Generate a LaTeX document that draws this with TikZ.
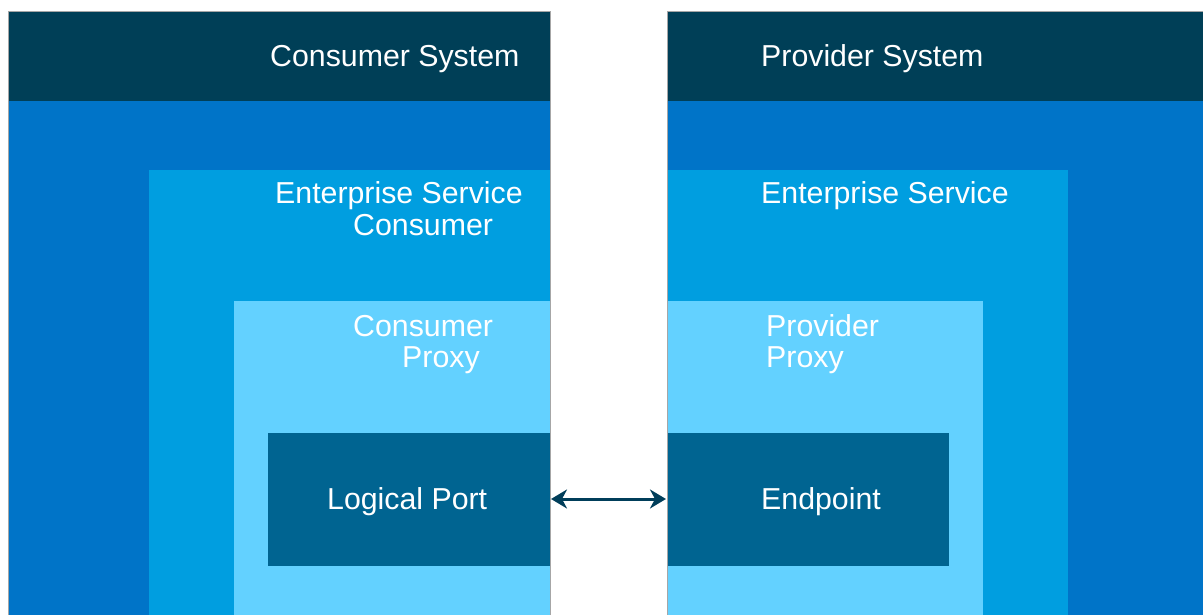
\documentclass[tikz,border=0pt]{standalone}
\usepackage{fontspec}
\setmainfont{Liberation Sans}
\usetikzlibrary{arrows.meta}
\definecolor{hdr}{RGB}{0,63,87}
\definecolor{sysblue}{RGB}{0,116,200}
\definecolor{esblue}{RGB}{0,158,224}
\definecolor{proxyblue}{RGB}{99,209,255}
\definecolor{portblue}{RGB}{0,100,145}
\definecolor{arrowc}{RGB}{0,62,90}
\tikzset{
  box/.style={inner sep=0pt, outer sep=0pt, draw=none},
  lbl/.style={text=white, font=\fontsize{30.3}{31}\selectfont, inner sep=0pt, anchor=base west},
}
\begin{document}
\begin{tikzpicture}[x=1pt,y=-1pt]
\useasboundingbox (0,0) rectangle (1203,615);
\fill[white] (0,0) rectangle (1203,615);
% left system
\fill[sysblue] (8,11) rectangle (550,615);
\fill[hdr] (8,11) rectangle (550,101);
\fill[esblue] (149,170) rectangle (550,615);
\fill[proxyblue] (234,301) rectangle (550,615);
\fill[portblue] (268,433) rectangle (550,566);
\draw[gray!70, line width=0.8pt] (8,615) -- (8,11) -- (550,11) -- (550,615);
% right system
\fill[sysblue] (667,11) rectangle (1203,615);
\fill[hdr] (667,11) rectangle (1203,101);
\fill[esblue] (667,170) rectangle (1068,615);
\fill[proxyblue] (667,301) rectangle (983,615);
\fill[portblue] (667,433) rectangle (949,566);
\draw[gray!70, line width=0.8pt] (667,615) -- (667,11) -- (1203,11);
% anchor coordinates for connector
\coordinate (portL) at (551,499);
\coordinate (portR) at (666,499);
% labels
\node[lbl] (t1) at (270,67) {Consumer System};
\node[lbl] (t2) at (761,67) {Provider System};
\node[lbl] (t3) at (275,204) {Enterprise Service};
\node[lbl] (t4) at (353,236) {Consumer};
\node[lbl] (t5) at (761,204) {Enterprise Service};
\node[lbl] (t6) at (353,336) {Consumer};
\node[lbl] (t7) at (402,367) {Proxy};
\node[lbl] (t8) at (766,336) {Provider};
\node[lbl] (t9) at (766,367) {Proxy};
\node[lbl] (t10) at (327,509) {Logical Port};
\node[lbl] (t11) at (761,509) {Endpoint};
% connector
\draw[arrowc, line width=3pt, {Stealth[length=16pt,width=19pt,inset=5pt]}-{Stealth[length=16pt,width=19pt,inset=5pt]}] (portL) -- (portR);
\end{tikzpicture}
\end{document}
